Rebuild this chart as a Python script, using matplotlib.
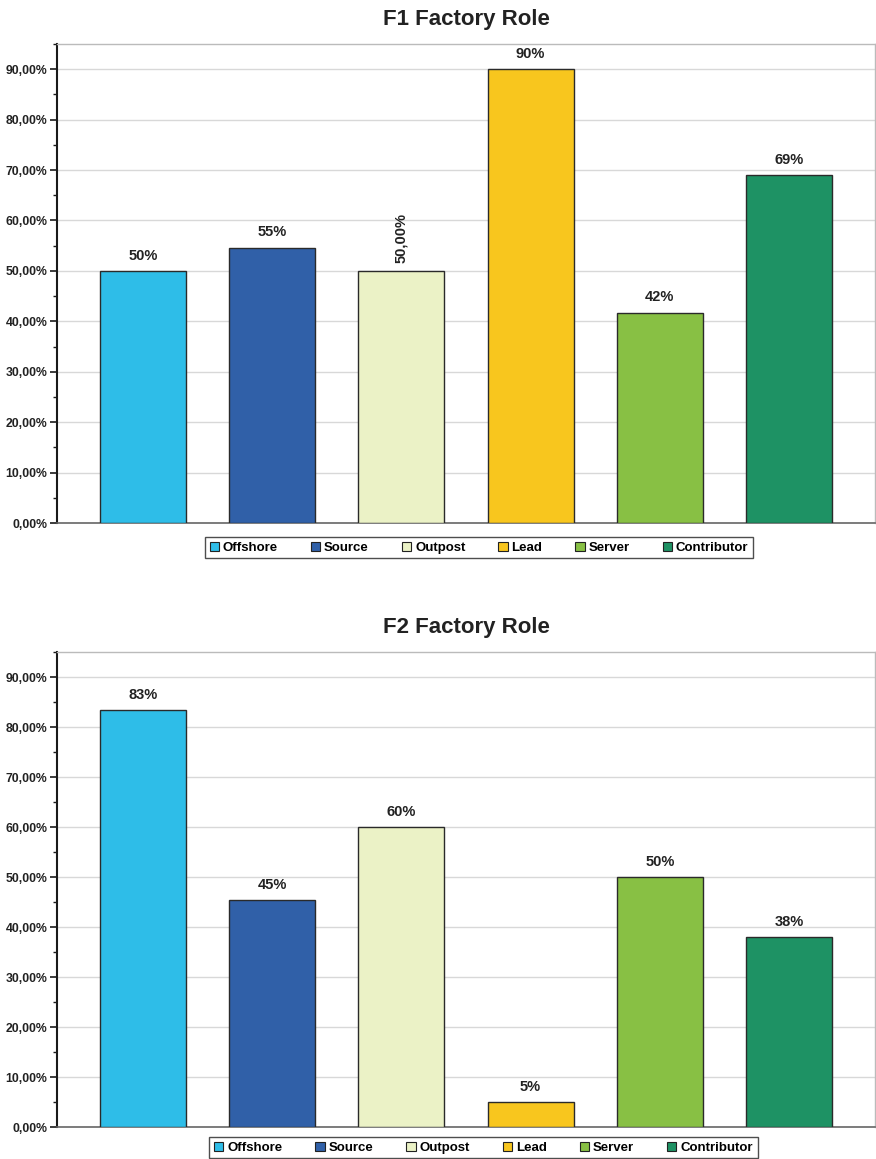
import matplotlib
matplotlib.use("Agg")
import matplotlib.pyplot as plt
from matplotlib.patches import Patch
from matplotlib.ticker import MultipleLocator, FuncFormatter

plt.rcParams['font.family'] = ['Liberation Sans', 'DejaVu Sans']

roles = ["Offshore", "Source", "Outpost", "Lead", "Server", "Contributor"]
colors = ["#2EBDE8", "#3060A8", "#EBF2C6", "#F8C61E", "#88C044", "#1E9264"]

f1_values = [50.0, 54.6, 50.0, 90.0, 41.7, 69.0]
f1_labels = ["50%", "55%", "50,00%", "90%", "42%", "69%"]
f1_rotated = [False, False, True, False, False, False]

f2_values = [83.4, 45.4, 60.0, 5.0, 50.0, 38.0]
f2_labels = ["83%", "45%", "60%", "5%", "50%", "38%"]
f2_rotated = [False] * 6

W, H = 876, 1159
fig = plt.figure(figsize=(W / 100, H / 100), dpi=100)


def px_axes(left, top, right, bottom):
    return fig.add_axes([left / W, 1 - bottom / H, (right - left) / W, (bottom - top) / H])


def pct_fmt(v, pos):
    return f"{v:.2f}%".replace(".", ",")


def draw_chart(ax, values, labels, rotated, title, legend_center_x, legend_top):
    x = list(range(len(roles)))
    ax.bar(x, values, width=0.665, color=colors, edgecolor="#2a2a2a",
           linewidth=1.0, zorder=3)
    ax.set_xlim(-0.665, len(roles) - 1 + 0.665)
    ax.set_ylim(0, 95)
    ax.yaxis.set_major_locator(MultipleLocator(10))
    ax.yaxis.set_minor_locator(MultipleLocator(5))
    ax.yaxis.set_major_formatter(FuncFormatter(pct_fmt))
    ax.set_xticks([])
    ax.grid(axis="y", which="major", color="#d8d8d8", linewidth=1.0, zorder=0)
    ax.set_axisbelow(True)
    for side in ("top", "right"):
        ax.spines[side].set_color("#bbbbbb")
        ax.spines[side].set_linewidth(1.0)
    ax.spines["left"].set_color("#1a1a1a")
    ax.spines["left"].set_linewidth(1.5)
    ax.spines["bottom"].set_color("#666666")
    ax.spines["bottom"].set_linewidth(1.2)
    ax.tick_params(axis="y", which="major", length=5, width=1.2, color="#1a1a1a",
                   labelsize=8.8, pad=2, labelcolor="#222222")
    ax.tick_params(axis="y", which="minor", length=3, width=1.0, color="#1a1a1a")
    for lbl in ax.get_yticklabels():
        lbl.set_fontweight("bold")
    for xi, v, t, rot in zip(x, values, labels, rotated):
        ax.annotate(t, (xi, v), xytext=(0, 6), textcoords="offset points",
                    ha="center", va="bottom", rotation=90 if rot else 0,
                    fontsize=10.5, fontweight="bold", color="#222222")
    ax.set_title(title, fontsize=16, fontweight="bold", color="#222222", pad=14)
    handles = [Patch(facecolor=c, edgecolor="#222222", linewidth=0.8, label=r)
               for c, r in zip(colors, roles)]
    leg = fig.legend(handles=handles, ncol=6, loc="upper center",
                     bbox_to_anchor=(legend_center_x / W, 1 - legend_top / H),
                     frameon=True, fancybox=False,
                     prop={"weight": "bold", "size": 9.5},
                     handlelength=0.7, handleheight=0.7, handletextpad=0.3,
                     columnspacing=2.5, borderpad=0.35, borderaxespad=0)
    leg.get_frame().set_edgecolor("#222222")
    leg.get_frame().set_linewidth(1.0)


ax1 = px_axes(57, 44, 875, 523)
draw_chart(ax1, f1_values, f1_labels, f1_rotated, "F1 Factory Role", 479, 537)

ax2 = px_axes(57, 652, 875, 1127)
draw_chart(ax2, f2_values, f2_labels, f2_rotated, "F2 Factory Role", 483.5, 1137)

fig.savefig("out.png", dpi=100)
